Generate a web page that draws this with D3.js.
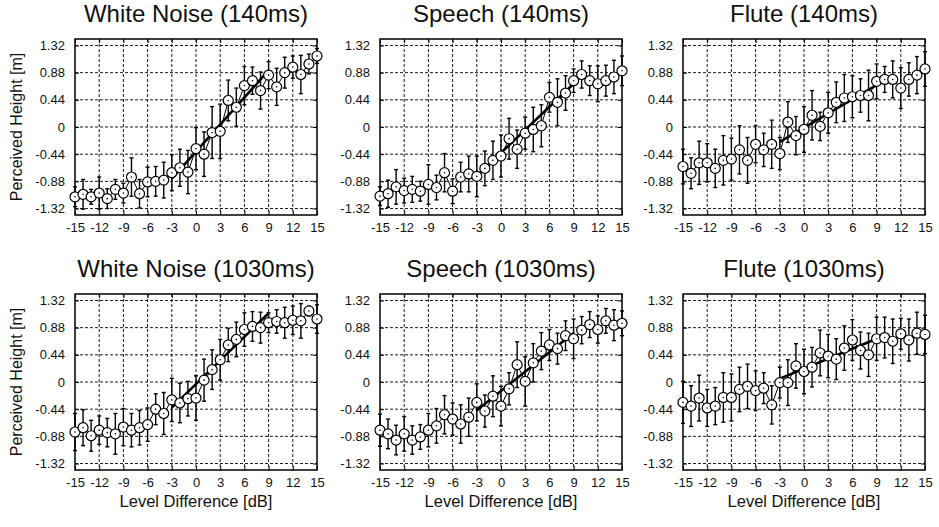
<!DOCTYPE html>
<html>
<head>
<meta charset="utf-8">
<script src="https://cdn.jsdelivr.net/npm/d3@7"></script>
<style>
  body { margin: 0; background: #fff; }
  svg { display: block; font-family: "Liberation Sans", Arial, sans-serif; }
</style>
</head>
<body>
<div id="app"></div>
<script>
// DATA
const levels = [-15,-14,-13,-12,-11,-10,-9,-8,-7,-6,-5,-4,-3,-2,-1,0,1,2,3,4,5,6,7,8,9,10,11,12,13,14,15];
const xTicks = [-15,-12,-9,-6,-3,0,3,6,9,12,15];
const yTicks = [-1.32,-0.88,-0.44,0,0.44,0.88,1.32];
const yTickLabels = ['-1.32','-0.88','-0.44','0','0.44','0.88','1.32'];
const fitRange = [-3, 9];

const wn140Mean = [-1.13,-1.09,-1.13,-1.07,-1.16,-1.01,-1.07,-0.81,-1.08,-0.89,-0.88,-0.86,-0.74,-0.66,-0.73,-0.35,-0.44,-0.09,-0.07,0.43,0.32,0.67,0.75,0.59,0.84,0.65,0.88,0.97,0.85,1.02,1.15];
const wn140Err  = [0.16,0.24,0.12,0.26,0.16,0.16,0.16,0.31,0.23,0.24,0.24,0.29,0.29,0.30,0.35,0.34,0.36,0.42,0.44,0.33,0.31,0.31,0.22,0.30,0.22,0.30,0.25,0.18,0.31,0.16,0.12];
const wn140Fit  = [-0.835, 0.916];

const sp140Mean = [-1.12,-1.08,-0.97,-1.03,-1.01,-1.04,-0.93,-0.98,-0.74,-1.04,-0.81,-0.76,-0.80,-0.67,-0.54,-0.47,-0.19,-0.36,-0.10,-0.04,0.02,0.48,0.40,0.55,0.75,0.85,0.75,0.70,0.75,0.81,0.91];
const sp140Err  = [0.15,0.22,0.28,0.20,0.21,0.16,0.32,0.20,0.31,0.20,0.24,0.29,0.33,0.28,0.31,0.34,0.33,0.31,0.26,0.36,0.34,0.24,0.38,0.28,0.19,0.22,0.24,0.29,0.25,0.27,0.24];
const sp140Fit  = [-0.792, 0.700];

const fl140Mean = [-0.64,-0.75,-0.58,-0.58,-0.67,-0.54,-0.52,-0.37,-0.54,-0.28,-0.37,-0.28,-0.43,0.08,-0.14,-0.04,0.19,0.01,0.23,0.40,0.47,0.49,0.51,0.51,0.74,0.77,0.77,0.63,0.77,0.84,0.94];
const fl140Err  = [0.28,0.25,0.35,0.31,0.31,0.40,0.34,0.39,0.37,0.30,0.27,0.39,0.26,0.33,0.31,0.37,0.40,0.23,0.33,0.33,0.38,0.34,0.27,0.41,0.28,0.21,0.30,0.33,0.27,0.30,0.28];
const fl140Fit  = [-0.24, 0.68];

const wn1030Mean = [-0.81,-0.74,-0.87,-0.78,-0.82,-0.84,-0.73,-0.78,-0.74,-0.69,-0.44,-0.51,-0.29,-0.34,-0.27,-0.26,0.03,0.20,0.36,0.60,0.69,0.85,0.90,0.88,0.96,0.98,0.96,1.00,0.99,1.15,1.02];
const wn1030Err  = [0.30,0.29,0.25,0.23,0.23,0.33,0.30,0.27,0.28,0.27,0.25,0.34,0.35,0.32,0.28,0.36,0.34,0.32,0.33,0.27,0.28,0.27,0.24,0.25,0.16,0.19,0.25,0.23,0.28,0.08,0.23];
const wn1030Fit  = [-0.415, 1.115];

const sp1030Mean = [-0.78,-0.84,-0.94,-0.84,-0.94,-0.89,-0.78,-0.71,-0.53,-0.60,-0.68,-0.57,-0.33,-0.47,-0.23,-0.39,-0.11,0.28,0.01,0.31,0.50,0.60,0.54,0.75,0.70,0.84,0.93,0.85,0.99,0.92,0.95];
const sp1030Err  = [0.26,0.24,0.24,0.28,0.23,0.20,0.27,0.28,0.31,0.26,0.31,0.31,0.30,0.26,0.33,0.32,0.26,0.37,0.40,0.31,0.30,0.25,0.25,0.24,0.32,0.22,0.21,0.22,0.20,0.25,0.20];
const sp1030Fit  = [-0.458, 0.792];

const fl1030Mean = [-0.33,-0.39,-0.26,-0.42,-0.39,-0.25,-0.25,-0.12,-0.07,-0.14,-0.10,-0.37,-0.01,-0.01,0.26,0.17,0.24,0.47,0.42,0.37,0.55,0.68,0.51,0.44,0.70,0.72,0.66,0.78,0.68,0.79,0.77];
const fl1030Err  = [0.34,0.33,0.37,0.30,0.30,0.40,0.38,0.36,0.36,0.32,0.25,0.31,0.25,0.37,0.36,0.36,0.32,0.37,0.35,0.33,0.36,0.33,0.30,0.35,0.35,0.33,0.36,0.25,0.34,0.34,0.31];
const fl1030Fit  = [0.054, 0.70];

const panels = [
  { title: 'White Noise (140ms)', mean: wn140Mean, err: wn140Err, fit: wn140Fit, col: 0, row: 0 },
  { title: 'Speech (140ms)', mean: sp140Mean, err: sp140Err, fit: sp140Fit, col: 1, row: 0 },
  { title: 'Flute (140ms)', mean: fl140Mean, err: fl140Err, fit: fl140Fit, col: 2, row: 0 },
  { title: 'White Noise (1030ms)', mean: wn1030Mean, err: wn1030Err, fit: wn1030Fit, col: 0, row: 1 },
  { title: 'Speech (1030ms)', mean: sp1030Mean, err: sp1030Err, fit: sp1030Fit, col: 1, row: 1 },
  { title: 'Flute (1030ms)', mean: fl1030Mean, err: fl1030Err, fit: fl1030Fit, col: 2, row: 1 }
];

// LAYOUT
const width = 939, height = 527;
const colLeft = [75, 380, 683];
const rowTop = [39, 294];
const pw = 242, ph = 176;

const svg = d3.select('#app').append('svg')
  .attr('width', width)
  .attr('height', height);

panels.forEach(p => {
  const left = colLeft[p.col];
  const top = rowTop[p.row];
  const x = d3.scaleLinear().domain([-15, 15]).range([0, pw]);
  const y = d3.scaleLinear().domain([-1.425, 1.425]).range([ph, 0]);

  const g = svg.append('g').attr('transform', `translate(${left},${top})`);

  // dashed grid
  g.append('g').selectAll('line')
    .data(xTicks.slice(1, -1))
    .join('line')
      .attr('x1', d => x(d)).attr('x2', d => x(d))
      .attr('y1', 0).attr('y2', ph)
      .attr('stroke', '#000').attr('stroke-width', 0.9)
      .attr('stroke-dasharray', '3,2');
  g.append('g').selectAll('line')
    .data(yTicks)
    .join('line')
      .attr('x1', 0).attr('x2', pw)
      .attr('y1', d => y(d)).attr('y2', d => y(d))
      .attr('stroke', '#000').attr('stroke-width', 0.9)
      .attr('stroke-dasharray', '3,2');

  // axes (labels + inner ticks)
  const xAxis = g.append('g').attr('transform', `translate(0,${ph})`)
    .call(d3.axisBottom(x).tickValues(xTicks).tickSizeInner(-4).tickSizeOuter(0).tickPadding(8).tickFormat(d => String(d)));
  const yAxis = g.append('g')
    .call(d3.axisLeft(y).tickValues(yTicks).tickSizeInner(-4).tickSizeOuter(0).tickPadding(10).tickFormat((d, i) => yTickLabels[i]));
  g.append('g')
    .call(d3.axisTop(x).tickValues(xTicks).tickSizeInner(-4).tickSizeOuter(0).tickFormat(''));
  g.append('g').attr('transform', `translate(${pw},0)`)
    .call(d3.axisRight(y).tickValues(yTicks).tickSizeInner(-4).tickSizeOuter(0).tickFormat(''));
  g.selectAll('.domain').remove();
  g.selectAll('.tick line').attr('stroke', '#000').attr('stroke-width', 1);
  [xAxis, yAxis].forEach(a => a.selectAll('text')
    .attr('fill', '#111')
    .style('font-size', '13px')
    .style('font-family', '"Liberation Sans", Arial, sans-serif'));

  // frame
  g.append('rect')
    .attr('width', pw).attr('height', ph)
    .attr('fill', 'none').attr('stroke', '#000').attr('stroke-width', 1.5);

  const pts = levels.map((d, i) => ({ x: d, m: p.mean[i], e: p.err[i] }));

  // error bars
  const eb = g.append('g').attr('stroke', '#000').attr('stroke-width', 1.4);
  eb.selectAll('line.v').data(pts).join('line').attr('class', 'v')
    .attr('x1', d => x(d.x)).attr('x2', d => x(d.x))
    .attr('y1', d => y(d.m - d.e)).attr('y2', d => y(d.m + d.e));
  eb.selectAll('line.t').data(pts).join('line').attr('class', 't')
    .attr('x1', d => x(d.x) - 2).attr('x2', d => x(d.x) + 2)
    .attr('y1', d => y(d.m + d.e)).attr('y2', d => y(d.m + d.e));
  eb.selectAll('line.b').data(pts).join('line').attr('class', 'b')
    .attr('x1', d => x(d.x) - 2).attr('x2', d => x(d.x) + 2)
    .attr('y1', d => y(d.m - d.e)).attr('y2', d => y(d.m - d.e));

  // connecting line
  g.append('path').datum(pts)
    .attr('fill', 'none').attr('stroke', '#000').attr('stroke-width', 1)
    .attr('d', d3.line().x(d => x(d.x)).y(d => y(d.m)));

  // regression line
  g.append('line')
    .attr('x1', x(fitRange[0])).attr('x2', x(fitRange[1]))
    .attr('y1', y(p.fit[0])).attr('y2', y(p.fit[1]))
    .attr('stroke', '#000').attr('stroke-width', 2.6);

  // markers
  g.append('g').selectAll('circle').data(pts).join('circle')
    .attr('cx', d => x(d.x)).attr('cy', d => y(d.m)).attr('r', 5)
    .attr('fill', '#fff').attr('stroke', '#000').attr('stroke-width', 1.2);
  g.append('g').selectAll('circle').data(pts).join('circle')
    .attr('cx', d => x(d.x)).attr('cy', d => y(d.m)).attr('r', 0.8)
    .attr('fill', '#000');

  // title
  svg.append('text')
    .attr('x', left + pw / 2).attr('y', top - 17)
    .attr('text-anchor', 'middle')
    .style('font-size', '24px')
    .attr('fill', '#111')
    .text(p.title);

  if (p.col === 0) {
    svg.append('text')
      .attr('transform', `translate(22,${top + ph / 2}) rotate(-90)`)
      .attr('text-anchor', 'middle')
      .style('font-size', '16px')
      .attr('fill', '#111')
      .text('Perceived Height [m]');
  }
  if (p.row === 1) {
    svg.append('text')
      .attr('x', left + pw / 2).attr('y', 507)
      .attr('text-anchor', 'middle')
      .style('font-size', '16.5px')
      .attr('fill', '#111')
      .text('Level Difference [dB]');
  }
});
</script>
</body>
</html>
